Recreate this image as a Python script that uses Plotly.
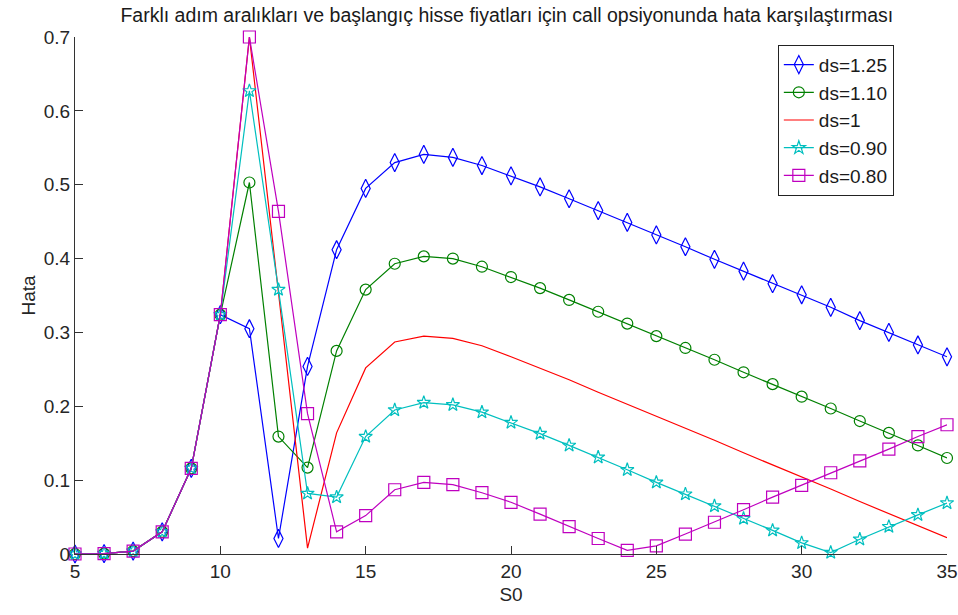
import plotly.graph_objects as go

S0 = list(range(5, 36))

ds_125 = [0, 0.0005, 0.004, 0.030, 0.116, 0.324, 0.305, 0.021, 0.254, 0.412, 0.495,
          0.530, 0.541, 0.537, 0.526, 0.512, 0.497, 0.481, 0.465, 0.449, 0.432,
          0.416, 0.399, 0.383, 0.366, 0.351, 0.334, 0.316, 0.300, 0.283, 0.267]
ds_110 = [0, 0.0005, 0.004, 0.030, 0.116, 0.324, 0.503, 0.159, 0.117, 0.275, 0.358,
          0.393, 0.403, 0.400, 0.389, 0.375, 0.360, 0.344, 0.328, 0.312, 0.295,
          0.279, 0.263, 0.246, 0.230, 0.213, 0.197, 0.180, 0.164, 0.147, 0.130]
ds_100 = [0, 0.0005, 0.004, 0.030, 0.116, 0.324, 0.700, 0.355, 0.008, 0.164, 0.252,
          0.287, 0.295, 0.292, 0.282, 0.267, 0.252, 0.236, 0.219, 0.203, 0.187,
          0.170, 0.154, 0.137, 0.121, 0.104, 0.088, 0.071, 0.055, 0.038, 0.022]
ds_090 = [0, 0.0005, 0.004, 0.030, 0.116, 0.324, 0.627, 0.358, 0.082, 0.077, 0.159,
          0.195, 0.205, 0.202, 0.192, 0.178, 0.163, 0.147, 0.131, 0.114, 0.097,
          0.081, 0.065, 0.048, 0.032, 0.015, 0.002, 0.020, 0.037, 0.053, 0.069]
ds_080 = [0, 0.0005, 0.004, 0.030, 0.116, 0.324, 0.700, 0.464, 0.190, 0.030, 0.052,
          0.087, 0.097, 0.094, 0.083, 0.070, 0.054, 0.037, 0.021, 0.005, 0.011,
          0.027, 0.043, 0.060, 0.077, 0.093, 0.110, 0.126, 0.142, 0.159, 0.175]

series = [
    ("ds=1.25", ds_125, "#0000FF", "diamond-tall-open", 13),
    ("ds=1.10", ds_110, "#008000", "circle-open", 11),
    ("ds=1", ds_100, "#FF0000", None, 0),
    ("ds=0.90", ds_090, "#00BFBF", "star-open", 10),
    ("ds=0.80", ds_080, "#BF00BF", "square-open", 12),
]

fig = go.Figure()
for name, vals, color, sym, size in series:
    if sym:
        fig.add_trace(go.Scatter(
            x=S0, y=vals, name=name, mode="lines+markers",
            line=dict(color=color, width=1.2),
            marker=dict(symbol=sym, size=size, color=color, line=dict(color=color, width=1.2)),
            cliponaxis=False))
    else:
        fig.add_trace(go.Scatter(
            x=S0, y=vals, name=name, mode="lines",
            line=dict(color=color, width=1.2), cliponaxis=False))

FAM = "Liberation Sans, Arial, sans-serif"
axis_font = dict(family=FAM, size=19, color="#262626")

fig.update_layout(
    width=958, height=615,
    margin=dict(l=75, r=11, t=37, b=61),
    paper_bgcolor="white", plot_bgcolor="white",
    title=dict(text="Farklı adım aralıkları ve başlangıç hisse fiyatları için call opsiyonunda hata karşılaştırması",
               x=0.529, xanchor="center", y=0.975, yanchor="middle",
               font=dict(family=FAM, size=19.5, color="#1a1a1a")),
    font=axis_font,
    showlegend=True,
    legend=dict(x=0.806, y=0.985, xanchor="left", yanchor="top",
                bgcolor="white", bordercolor="#222", borderwidth=1,
                font=dict(family=FAM, size=19, color="#1a1a1a")),
)

fig.update_xaxes(range=[5, 35], tickvals=[5, 10, 15, 20, 25, 30, 35],
                 ticks="inside", ticklen=8, tickcolor="#333", showline=True,
                 linecolor="#333", linewidth=1, showgrid=False, zeroline=False,
                 automargin=False,
                 title=dict(text="S0", standoff=6, font=axis_font), tickfont=axis_font)
fig.update_yaxes(range=[0, 0.7], tickvals=[0, 0.1, 0.2, 0.3, 0.4, 0.5, 0.6, 0.7],
                 ticktext=["0", "0.1", "0.2", "0.3", "0.4", "0.5", "0.6", "0.7"],
                 ticks="inside", ticklen=8, tickcolor="#333", showline=True,
                 linecolor="#333", linewidth=1, showgrid=False, zeroline=False,
                 automargin=False,
                 title=dict(text="Hata", standoff=3, font=axis_font), tickfont=axis_font)

fig.write_html("out.html", config={"displayModeBar": False},
               post_script="document.body.style.margin='0';document.body.style.padding='0';")
